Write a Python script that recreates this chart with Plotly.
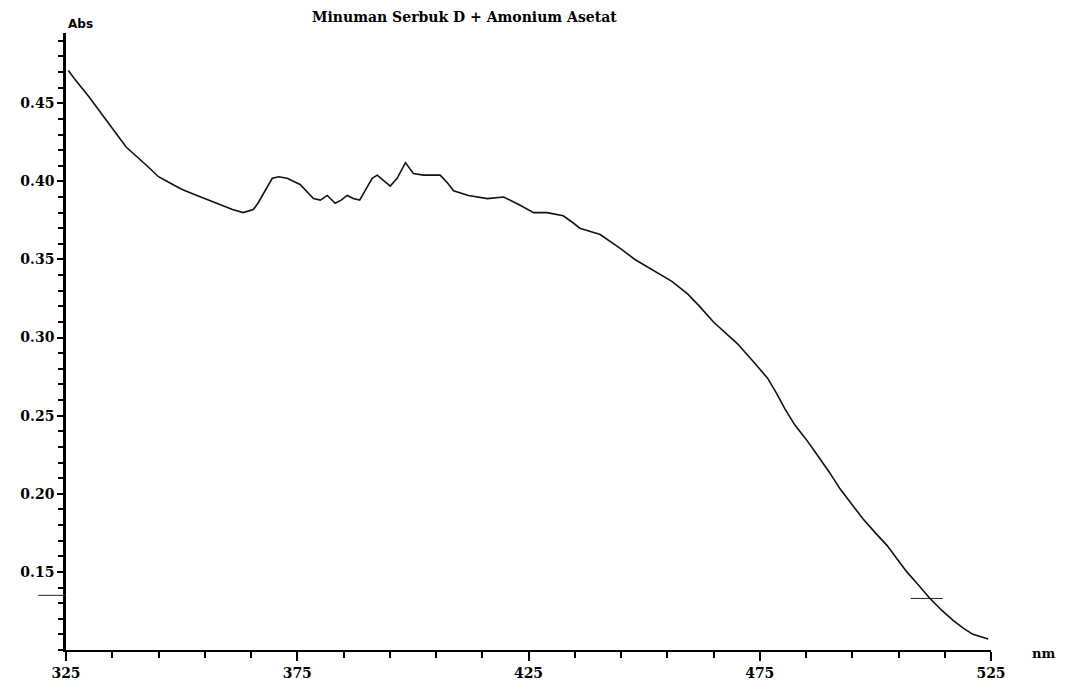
import plotly.graph_objects as go

# Wavelength (nm) and absorbance
wavelength_nm = [325.5, 327, 330, 333, 336, 338, 342.5, 345, 347.5, 350, 352.5, 355, 358.3, 361, 363.3,
                 365.5, 366.5, 367.6, 369.6, 371, 372.8, 375.6, 378.5, 380, 381.5, 383.2, 384.5, 385.8,
                 387.1, 388.5, 389.5, 391.2, 392.3, 393.5, 395.1, 396.6, 398.4, 400.1, 402.3, 405.9,
                 407.5, 408.8, 412, 416.1, 419.6, 423, 426.1, 429, 432.5, 434.4, 436.1, 440.5, 444.9,
                 448, 452.1, 456, 459.4, 462, 465, 467.5, 470.2, 473.5, 476.7, 478.7, 480.5, 482.6,
                 485, 487.4, 490, 492.4, 495, 497.3, 500, 502.5, 504.5, 506.8, 509.5, 511.8, 514.5,
                 516.8, 519, 521.1, 524.4]
absorbance = [0.471, 0.465, 0.454, 0.442, 0.430, 0.422, 0.410, 0.403, 0.399, 0.395, 0.392, 0.389, 0.385,
              0.382, 0.380, 0.382, 0.386, 0.392, 0.402, 0.403, 0.402, 0.398, 0.389, 0.388, 0.391, 0.386,
              0.388, 0.391, 0.389, 0.388, 0.393, 0.402, 0.404, 0.401, 0.397, 0.402, 0.412, 0.405, 0.404,
              0.404, 0.399, 0.394, 0.391, 0.389, 0.390, 0.385, 0.380, 0.380, 0.378, 0.374, 0.370, 0.366,
              0.357, 0.350, 0.343, 0.336, 0.328, 0.320, 0.310, 0.303, 0.296, 0.285, 0.274, 0.264, 0.254,
              0.244, 0.235, 0.225, 0.214, 0.203, 0.193, 0.184, 0.175, 0.167, 0.159, 0.150, 0.141, 0.133,
              0.125, 0.119, 0.114, 0.110, 0.107]

x_tick_vals = [325, 375, 425, 475, 525]
x_tick_text = ["325", "375", "425", "475", "525"]
y_tick_vals = [0.15, 0.20, 0.25, 0.30, 0.35, 0.40, 0.45]
y_tick_text = ["0.15", "0.20", "0.25", "0.30", "0.35", "0.40", "0.45"]

cursor_nm = 511.8
cursor_abs = 0.133

title_text = "Minuman Serbuk D + Amonium Asetat"

serif = "DejaVu Serif"

fig = go.Figure()
fig.add_trace(go.Scatter(x=wavelength_nm, y=absorbance, mode="lines",
                         line=dict(color="#111111", width=1.6), showlegend=False,
                         hoverinfo="skip"))

# cursor marks
fig.add_shape(type="line", xref="x", yref="y", x0=cursor_nm - 4.2, x1=cursor_nm + 2.8,
              y0=cursor_abs, y1=cursor_abs, line=dict(color="#222222", width=1))
fig.add_shape(type="line", xref="paper", yref="y", x0=-0.03, x1=0.0,
              y0=cursor_abs + 0.002, y1=cursor_abs + 0.002, line=dict(color="#222222", width=1))

fig.update_layout(
    width=1068, height=698,
    margin=dict(l=58, r=85, t=25, b=56),
    paper_bgcolor="white", plot_bgcolor="white",
    xaxis=dict(range=[325, 525], tickmode="array", tickvals=x_tick_vals, ticktext=x_tick_text,
               showgrid=False, zeroline=False, showline=True, linecolor="black", linewidth=2,
               ticks="outside", ticklen=9, tickwidth=1.5, tickcolor="black",
               minor=dict(dtick=10, tick0=325, ticks="outside", ticklen=6, tickwidth=1.5,
                          tickcolor="black", showgrid=False),
               tickfont=dict(family=serif, size=14, color="black", weight="bold")),
    yaxis=dict(range=[0.1, 0.495], tickmode="array", tickvals=y_tick_vals, ticktext=y_tick_text,
               showgrid=False, zeroline=False, showline=True, linecolor="black", linewidth=2.5,
               ticks="outside", ticklen=6, tickwidth=1.5, tickcolor="black",
               minor=dict(dtick=0.01, tick0=0.1, ticks="outside", ticklen=5, tickwidth=1.5,
                          tickcolor="black", showgrid=False),
               tickfont=dict(family=serif, size=14, color="black", weight="bold")),
    annotations=[
        dict(text=title_text, xref="paper", yref="paper", x=0.431, y=1.026, showarrow=False,
             xanchor="center", yanchor="middle",
             font=dict(family=serif, size=14, color="black", weight="bold")),
        dict(text="Abs", xref="paper", yref="paper", x=0.016, y=1.014, showarrow=False,
             xanchor="center", yanchor="middle",
             font=dict(family="DejaVu Sans", size=12, color="black", weight="bold")),
        dict(text="nm", xref="paper", yref="paper", x=1.057, y=-0.005, showarrow=False,
             xanchor="center", yanchor="middle",
             font=dict(family=serif, size=13, color="black", weight="bold")),
    ],
)

fig.write_html("out.html")
